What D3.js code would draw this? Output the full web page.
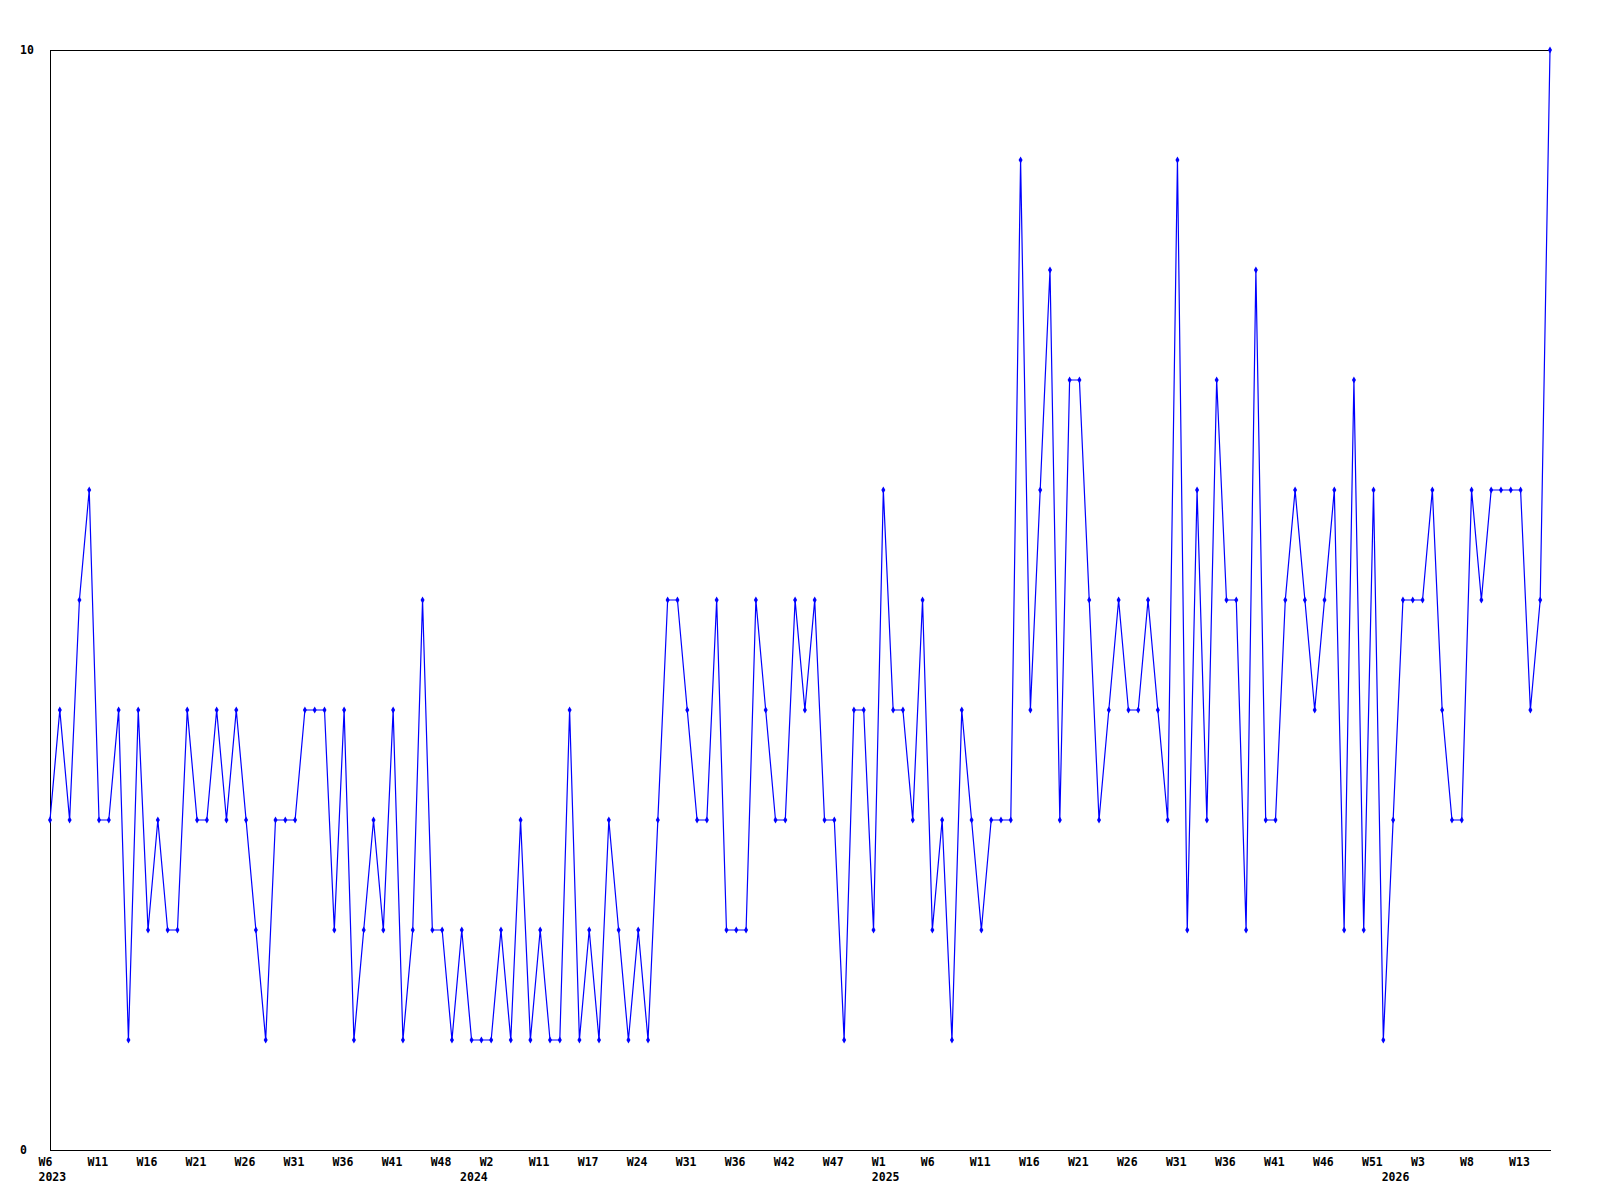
<!DOCTYPE html>
<html>
<head>
<meta charset="utf-8">
<script src="https://cdn.jsdelivr.net/npm/d3@7"></script>
<style>
  body { margin: 0; background: #fff; }
  svg { display: block; }
  .lbl { font-family: "DejaVu Sans Mono", monospace; font-weight: bold; font-size: 11.5px; fill: #000; }
</style>
</head>
<body>
<div id="chart"></div>
<script>
// weekly values, one per week starting at W6 2023
const values = [
  3,4,3,5,6,3,3,4,1,4,2,3,2,2,4,3,3,4,3,4,3,2,
  1,3,3,3,4,4,4,2,4,1,2,3,2,4,1,2,5,
  2,2,1,2,1,1,1,2,1,3,1,2,1,1,4,1,2,1,3,2,1,2,1,
  3,5,5,4,3,3,5,2,2,2,5,4,3,3,5,4,5,
  3,3,1,4,4,2,6,4,4,3,5,2,3,1,4,3,2,3,3,3,9,4,6,8,3,7,7,5,3,4,5,4,4,5,4,3,9,2,6,
  3,7,5,5,2,8,3,3,5,6,5,4,5,6,2,7,2,6,1,3,5,5,5,6,4,3,3,6,5,6,6,6,6,4,5,10
];

// one label every 5 points
const tickLabels = [
  "W6","W11","W16","W21","W26","W31","W36","W41","W48","W2","W11",
  "W17","W24","W31","W36","W42","W47","W1","W6","W11","W16","W21",
  "W26","W31","W36","W41","W46","W51","W3","W8","W13"
];
// year label -> point index where it sits
const yearLabels = ["2023", "2024", "2025", "2026"];
const yearIndex = [0, 43, 85, 137];
const yTicks = [0, 10];

const width = 1600, height = 1200;
const margin = { top: 50, right: 50, bottom: 50, left: 50 };

const svg = d3.select("#chart").append("svg")
  .attr("width", width)
  .attr("height", height);

const x = d3.scaleLinear()
  .domain([0, values.length - 1])
  .range([margin.left, width - margin.right]);

const y = d3.scaleLinear()
  .domain([0, 10])
  .range([height - margin.bottom, margin.top]);

// frame: left, top, bottom
svg.append("path")
  .attr("d", `M${x(values.length - 1)},${y(0)}H${x(0)}V${y(10)}H${x(values.length - 1)}`)
  .attr("fill", "none")
  .attr("stroke", "#000")
  .attr("stroke-width", 1)
  .attr("transform", "translate(0.5,0.5)")
  .attr("shape-rendering", "crispEdges");

// x labels
const xAxis = svg.append("g");
xAxis.selectAll("text.week")
  .data(tickLabels)
  .join("text")
  .attr("class", "lbl week")
  .attr("x", (d, i) => x(i * 5) - 11.5)
  .attr("y", y(0) + 16)
  .text(d => d);

xAxis.selectAll("text.year")
  .data(yearLabels)
  .join("text")
  .attr("class", "lbl year")
  .attr("x", (d, i) => x(yearIndex[i]) - 11.5)
  .attr("y", y(0) + 31)
  .text(d => d);

// y labels
svg.append("g").selectAll("text")
  .data(yTicks)
  .join("text")
  .attr("class", "lbl")
  .attr("x", 20)
  .attr("y", d => y(d) + 4)
  .text(d => d);

// series
const line = d3.line()
  .x((d, i) => x(i))
  .y(d => y(d));

svg.append("path")
  .datum(values)
  .attr("d", line)
  .attr("fill", "none")
  .attr("stroke", "#0000ff")
  .attr("stroke-width", 1.2);

svg.append("g").selectAll("path")
  .data(values)
  .join("path")
  .attr("d", d3.symbol().type(d3.symbolDiamond).size(14))
  .attr("transform", (d, i) => `translate(${x(i)},${y(d)})`)
  .attr("fill", "#0000ff");
</script>
</body>
</html>
